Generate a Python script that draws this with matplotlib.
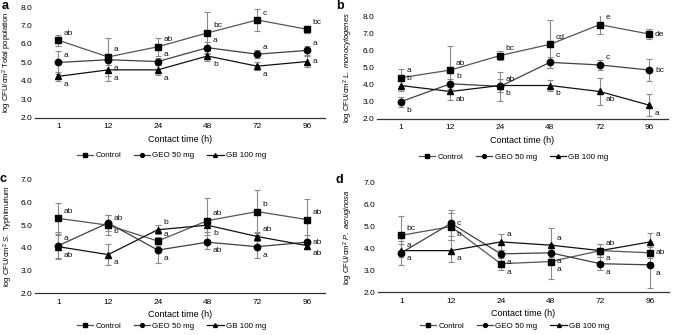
import matplotlib.pyplot as plt

plt.rcParams['font.family'] = ['Liberation Sans', 'DejaVu Sans']
plt.rcParams['mathtext.fontset'] = 'custom'
plt.rcParams['mathtext.rm'] = 'Liberation Sans'
plt.rcParams['mathtext.it'] = 'Liberation Sans:italic'

hours = ['1', '12', '24', '48', '72', '96']
names = ['Control', 'GEO 50 mg', 'GB 100 mg']

# a - total population
a_control = [6.2, 5.3, 5.85, 6.6, 7.3, 6.8]
a_control_sd = [0.3, 1.05, 0.5, 1.15, 0.6, 0.2]
a_geo = [5.0, 5.15, 5.05, 5.8, 5.45, 5.65]
a_geo_sd = [0.6, 0.3, 0.2, 0.3, 0.2, 0.25]
a_gb = [4.25, 4.6, 4.6, 5.35, 4.8, 5.05]
a_gb_sd = [0.25, 0.6, 0.3, 0.25, 0.2, 0.3]
a_letters = [['ab', 'a', 'ab', 'bc', 'c', 'bc'],
             ['a', 'a', 'a', 'a', 'a', 'a'],
             ['a', 'a', 'a', 'b', 'a', 'a']]

# b - L. monocytogenes
b_control = [4.4, 4.85, 5.7, 6.35, 7.5, 6.95]
b_control_sd = [0.5, 1.4, 0.25, 1.4, 0.55, 0.3]
b_geo = [3.0, 4.05, 3.9, 5.3, 5.15, 4.85]
b_geo_sd = [0.3, 0.3, 0.85, 0.3, 0.3, 0.65]
b_gb = [3.95, 3.6, 3.95, 3.95, 3.6, 2.8]
b_gb_sd = [0.3, 0.5, 0.4, 0.3, 0.8, 0.65]
b_letters = [['a', 'ab', 'bc', 'cd', 'e', 'de'],
             ['b', 'b', 'ab', 'c', 'c', 'bc'],
             ['b', 'ab', 'b', 'b', 'ab', 'a']]

# c - S. Typhimurium
c_control = [5.3, 5.0, 4.3, 5.2, 5.6, 5.25]
c_control_sd = [0.7, 0.45, 0.2, 1.0, 0.95, 0.9]
c_geo = [4.1, 5.1, 3.9, 4.25, 4.05, 4.25]
c_geo_sd = [0.6, 0.35, 0.55, 0.3, 0.5, 0.3]
c_gb = [4.05, 3.7, 4.8, 5.0, 4.5, 4.1]
c_gb_sd = [0.5, 0.45, 0.2, 0.3, 0.2, 0.15]
c_letters = [['ab', 'ab', 'a', 'ab', 'b', 'ab'],
             ['a', 'b', 'a', 'ab', 'a', 'ab'],
             ['ab', 'a', 'b', 'b', 'ab', 'ab']]

# d - P. aeruginosa
d_control = [4.6, 5.0, 3.3, 3.4, 3.9, 3.8]
d_control_sd = [0.9, 0.6, 0.3, 0.8, 0.3, 0.25]
d_geo = [3.8, 5.15, 3.75, 3.8, 3.3, 3.25]
d_geo_sd = [0.55, 0.6, 0.2, 0.2, 0.3, 1.05]
d_gb = [3.9, 3.9, 4.3, 4.15, 3.9, 4.3]
d_gb_sd = [0.3, 0.5, 0.35, 0.8, 0.3, 0.4]
d_letters = [['bc', 'b', 'a', 'a', 'ab', 'ab'],
             ['a', 'c', 'a', 'a', 'a', 'a'],
             ['a', 'a', 'a', 'a', 'a', 'a']]

# where each letter sits next to its marker: u = above, d = below, r = level
a_spots = ['uuuuuu', 'uduuuu', 'dddddr']
b_spots = ['uuuuur', 'duuuur', 'udddddr']
c_spots = ['uuuuuu', 'uddddr', 'ddudud']
d_spots = ['udddur', 'urddddr', 'dduudu']
shift = {'u': 5, 'd': -6, 'r': 0}

markers = ['s', 'o', '^']
line_colors = ['#555555', '#404040', '#111111']


def draw_panel(ax, means, sds, letters, spots, top, ylabel, label_x, legend_y):
    x = range(1, len(hours) + 1)
    for i in range(3):
        ax.errorbar(x, means[i], yerr=sds[i], fmt='none', ecolor='#8a8a8a',
                    elinewidth=0.8, capsize=2.2, capthick=0.8, zorder=1)
        ax.plot(x, means[i], color=line_colors[i], lw=0.9, marker=markers[i],
                ms=4.6, mfc='black', mec='black', label=names[i], zorder=3)
        for j, txt in enumerate(letters[i]):
            ax.annotate(txt, (j + 1, means[i][j]), xytext=(4, shift[spots[i][j]]),
                        textcoords='offset points', fontsize=6, ha='left',
                        va='center', color='#111111', zorder=4)
    ax.set_xlim(0.53, 6.37)
    ax.set_ylim(2.0, top)
    ax.set_yticks([v + 2.0 for v in range(int(top - 2.0) + 1)])
    ax.set_yticklabels(['%.1f' % (v + 2.0) for v in range(int(top - 2.0) + 1)])
    ax.set_xticks(list(x))
    ax.set_xticklabels(hours)
    ax.tick_params(length=0, labelsize=6, pad=2)
    ax.tick_params(axis='x', pad=4)
    for s in ['top', 'right', 'left']:
        ax.spines[s].set_visible(False)
    ax.spines['bottom'].set_color('#333333')
    ax.spines['bottom'].set_linewidth(0.9)
    ax.set_xlabel('Contact time (h)', fontsize=6.5, labelpad=3)
    ax.set_ylabel(ylabel, fontsize=5.5)
    ax.yaxis.set_label_coords(label_x, 0.5)
    ax.legend(loc='center', bbox_to_anchor=(0.47, legend_y), ncol=3, frameon=False,
              fontsize=5.8, markerscale=0.6, handlelength=2.0, columnspacing=1.6,
              handletextpad=0.3)


fig = plt.figure(figsize=(6.76, 3.35), dpi=100)
ax_a = fig.add_axes([0.052, 0.648, 0.429, 0.331])
ax_b = fig.add_axes([0.558, 0.645, 0.430, 0.307])
ax_c = fig.add_axes([0.052, 0.125, 0.429, 0.338])
ax_d = fig.add_axes([0.559, 0.128, 0.430, 0.326])

draw_panel(ax_a, [a_control, a_geo, a_gb], [a_control_sd, a_geo_sd, a_gb_sd],
           a_letters, a_spots, 8.0, 'log CFU/cm$^2$ Total population', -0.072, -0.34)
draw_panel(ax_b, [b_control, b_geo, b_gb], [b_control_sd, b_geo_sd, b_gb_sd],
           b_letters, b_spots, 8.0, r'log CFU/cm$^2$ $\it{L.\ monocytogenes}$', -0.075, -0.37)
draw_panel(ax_c, [c_control, c_geo, c_gb], [c_control_sd, c_geo_sd, c_gb_sd],
           c_letters, c_spots, 7.0, r'log CFU/cm$^2$ $\it{S.}$ Typhimurium', -0.069, -0.29)
draw_panel(ax_d, [d_control, d_geo, d_gb], [d_control_sd, d_geo_sd, d_gb_sd],
           d_letters, d_spots, 7.0, r'log CFU/cm$^2$ $\it{P.\ aeruginosa}$', -0.079, -0.31)

for tag, tx, ty in [('a', 0.003, 1.0), ('b', 0.497, 1.0), ('c', 0.0, 0.484), ('d', 0.497, 0.48)]:
    fig.text(tx, ty, tag, fontsize=9, fontweight='bold', ha='left', va='top')

fig.savefig('out.png', dpi=100)
